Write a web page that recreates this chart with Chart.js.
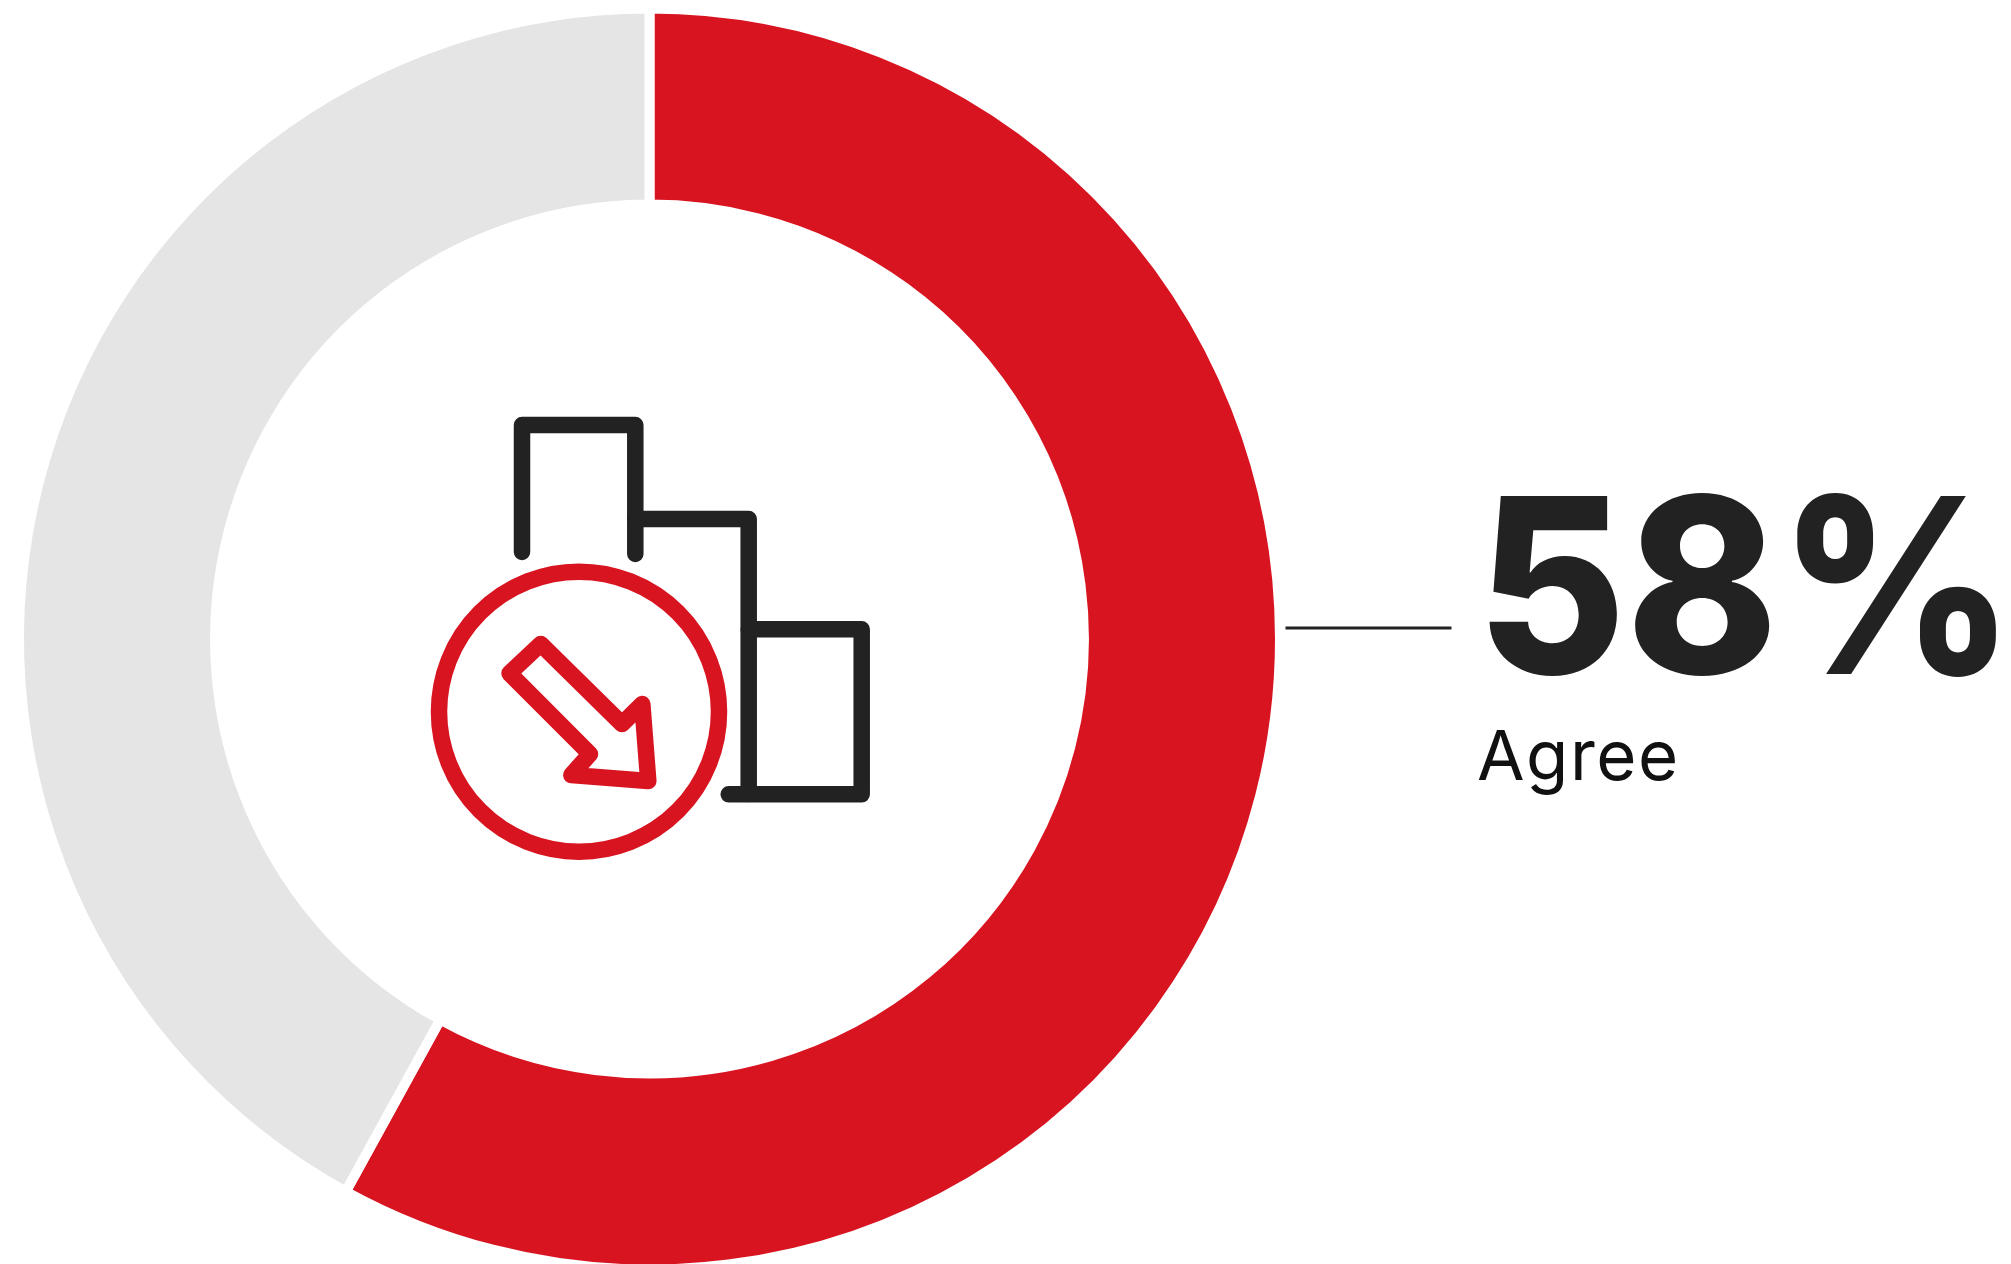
<!DOCTYPE html>
<html>
<head>
<meta charset="utf-8">
<title>Agree</title>
<script src="https://cdn.jsdelivr.net/npm/chart.js@4"></script>
<style>
  html, body { margin: 0; padding: 0; background: #fff; overflow: hidden; }
  canvas { display: block; }
</style>
</head>
<body>
<canvas id="donut" width="2011" height="1264"></canvas>
<script>
const categories = ['Agree', 'Other'];
const shares = [58, 42];
const sliceColors = ['#d81421', '#e5e5e5'];

const DARK = '#222222';
const RED = '#d81421';

// icon outlines, page pixels
const darkPaths = [
  [[522, 552], [522, 425], [635.3, 425], [635.3, 554]],
  [[635.3, 519], [748.7, 519], [748.7, 794]],
  [[748.7, 629.3], [861.7, 629.3], [861.7, 794.3], [728.7, 794.3]]
];
const arrowPath = [[540.7, 644], [509.5, 673.3], [590, 754], [571.3, 775], [648.3, 781], [642.3, 704], [622, 724]];

function strokePath(ctx, pts, close) {
  ctx.beginPath();
  pts.forEach((p, i) => i ? ctx.lineTo(p[0], p[1]) : ctx.moveTo(p[0], p[1]));
  if (close) ctx.closePath();
  ctx.stroke();
}

const sidePanel = {
  id: 'sidePanel',
  afterDraw(chart) {
    const ctx = chart.ctx;
    ctx.save();

    // building blocks and the arrow badge
    ctx.lineWidth = 16.5;
    ctx.lineCap = 'round';
    ctx.lineJoin = 'round';
    ctx.strokeStyle = DARK;
    darkPaths.forEach(p => strokePath(ctx, p, false));
    ctx.strokeStyle = RED;
    ctx.beginPath();
    ctx.arc(579, 711.7, 140, 0, Math.PI * 2);
    ctx.stroke();
    strokePath(ctx, arrowPath, true);

    // leader line
    ctx.strokeStyle = DARK;
    ctx.lineCap = 'butt';
    ctx.lineWidth = 3;
    ctx.beginPath();
    ctx.moveTo(1285.5, 628);
    ctx.lineTo(1451.5, 628);
    ctx.stroke();

    // value and its label
    ctx.textBaseline = 'alphabetic';
    ctx.textAlign = 'left';
    ctx.fillStyle = DARK;
    ctx.font = '800 245px Inter';
    const valueText = shares[0] + '%';
    const squeeze = 538 / ctx.measureText(valueText).width;
    ctx.save();
    ctx.translate(1476.5, 674);
    ctx.scale(squeeze, 1);
    ctx.fillText(valueText, 0, 0);
    ctx.restore();
    ctx.fillStyle = '#111111';
    ctx.font = '400 69px Inter';
    ctx.letterSpacing = '1.5px';
    ctx.fillText(categories[0], 1477, 780);

    ctx.restore();
  }
};

new Chart(document.getElementById('donut'), {
  type: 'doughnut',
  data: {
    labels: categories,
    datasets: [{
      data: shares,
      backgroundColor: sliceColors,
      borderColor: '#ffffff',
      borderWidth: 10,
      clip: false
    }]
  },
  options: {
    responsive: false,
    animation: false,
    radius: 630.5,
    cutout: '68.9%',
    layout: { padding: { top: 14, right: 712 } },
    plugins: { legend: { display: false }, tooltip: { enabled: false } }
  },
  plugins: [sidePanel]
});
</script>
</body>
</html>
